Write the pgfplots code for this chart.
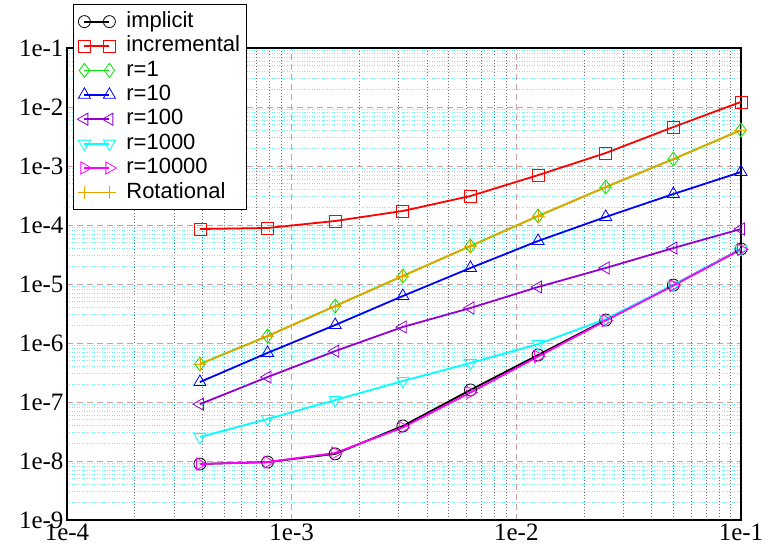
\documentclass[border=0pt]{standalone}
\usepackage{fontspec}
\setmainfont{Liberation Serif}
\newfontfamily\legendfont{Liberation Sans}
\usepackage{pgfplots}
\pgfplotsset{compat=1.18}
\definecolor{gridmaj}{RGB}{200,160,160}
\definecolor{gridminy}{RGB}{110,240,240}
\definecolor{gridminx}{RGB}{110,110,110}
\definecolor{cgreen}{RGB}{0,230,0}
\definecolor{cblue}{RGB}{0,0,255}
\definecolor{cpurple}{RGB}{148,0,211}
\definecolor{ccyan}{RGB}{0,255,255}
\definecolor{cmag}{RGB}{255,0,255}
\definecolor{corange}{RGB}{235,165,0}
\begin{document}
\begin{tikzpicture}
\useasboundingbox (-67bp,-32bp) rectangle (699bp,520bp);
\begin{axis}[
  at={(0,0)}, anchor=south west,
  scale only axis, width=674bp, height=472bp,
  xmode=log, ymode=log,
  xmin=1e-4, xmax=1e-1, ymin=1e-9, ymax=1e-1,
  xtick={1e-4,1e-3,1e-2,1e-1},
  xticklabels={1e-4,1e-3,1e-2,1e-1},
  ytick={1e-9,1e-8,1e-7,1e-6,1e-5,1e-4,1e-3,1e-2,1e-1},
  yticklabels={1e-9,1e-8,1e-7,1e-6,1e-5,1e-4,1e-3,1e-2,1e-1},
  minor xtick={2e-4,3e-4,4e-4,5e-4,6e-4,7e-4,8e-4,9e-4,
    2e-3,3e-3,4e-3,5e-3,6e-3,7e-3,8e-3,9e-3,
    2e-2,3e-2,4e-2,5e-2,6e-2,7e-2,8e-2,9e-2},
  minor ytick={2e-9,3e-9,4e-9,5e-9,6e-9,7e-9,8e-9,9e-9,
    2e-8,3e-8,4e-8,5e-8,6e-8,7e-8,8e-8,9e-8,
    2e-7,3e-7,4e-7,5e-7,6e-7,7e-7,8e-7,9e-7,
    2e-6,3e-6,4e-6,5e-6,6e-6,7e-6,8e-6,9e-6,
    2e-5,3e-5,4e-5,5e-5,6e-5,7e-5,8e-5,9e-5,
    2e-4,3e-4,4e-4,5e-4,6e-4,7e-4,8e-4,9e-4,
    2e-3,3e-3,4e-3,5e-3,6e-3,7e-3,8e-3,9e-3,
    2e-2,3e-2,4e-2,5e-2,6e-2,7e-2,8e-2,9e-2},
  grid=both,
  major grid style={gridmaj, line width=0.9bp, dash pattern=on 6bp off 4bp},
  minor x grid style={gridminx, line width=0.8bp, dash pattern=on 1bp off 2bp},
  minor y grid style={gridminy, line width=0.8bp, dash pattern=on 1bp off 1.5bp},
  major tick length=0pt, minor tick length=0pt,
  axis line style={line width=1.3bp},
  tick label style={font=\fontsize{25bp}{25bp}\selectfont},
  legend cell align=left,
  legend style={at={(0.0089,1.0932)}, anchor=north west, draw=black, line width=0.8bp, fill=white,
    font=\legendfont\fontsize{22bp}{24bp}\selectfont,
    inner xsep=4bp, inner ysep=5bp,
    nodes={text height=15.5bp, text depth=4bp, inner ysep=2.45bp},
    /tikz/every odd column/.append style={column sep=8bp}},
  legend image code/.code={\draw[mark repeat=1,mark phase=1,#1] plot coordinates {(0bp,0bp) (25bp,0bp)};},
  every axis plot/.append style={line width=1.8bp},
]
\addplot[black, mark=o, mark size=6bp, mark options={line width=0.8bp}] coordinates {
(0.000390625,8.9e-9) (0.00078125,9.6e-9) (0.0015625,1.32e-8) (0.003125,3.92e-8) (0.00625,1.6e-7)
(0.0125,6.26e-7) (0.025,2.45e-6) (0.05,9.6e-6) (0.1,3.92e-5)};
\addlegendentry{implicit}
\addplot[red, mark=square, mark size=6bp, mark options={line width=0.8bp}] coordinates {
(0.000390625,8.55e-5) (0.00078125,8.9e-5) (0.0015625,1.17e-4) (0.003125,1.73e-4) (0.00625,3.1e-4)
(0.0125,7.0e-4) (0.025,1.66e-3) (0.05,4.58e-3) (0.1,1.22e-2)};
\addlegendentry{incremental}
\addplot[cgreen, mark=diamond, mark size=7bp, mark options={line width=0.8bp}] coordinates {
(0.000390625,4.4e-7) (0.00078125,1.31e-6) (0.0015625,4.24e-6) (0.003125,1.37e-5) (0.00625,4.4e-5)
(0.0125,1.42e-4) (0.025,4.4e-4) (0.05,1.31e-3) (0.1,4.07e-3)};
\addlegendentry{r=1}
\addplot[cblue, mark=triangle, mark size=7bp, mark options={line width=0.8bp}] coordinates {
(0.000390625,2.18e-7) (0.00078125,6.8e-7) (0.0015625,2.02e-6) (0.003125,6.26e-6) (0.00625,1.87e-5)
(0.0125,5.36e-5) (0.025,1.37e-4) (0.05,3.35e-4) (0.1,7.9e-4)};
\addlegendentry{r=10}
\addplot[cpurple, mark=triangle, mark size=7bp, mark options={line width=0.8bp, rotate=90}] coordinates {
(0.000390625,9.2e-8) (0.00078125,2.65e-7) (0.0015625,7.3e-7) (0.003125,1.87e-6) (0.00625,3.92e-6)
(0.0125,8.9e-6) (0.025,1.87e-5) (0.05,4.07e-5) (0.1,8.55e-5)};
\addlegendentry{r=100}
\addplot[ccyan, mark=triangle, mark size=7bp, mark options={line width=0.8bp, rotate=180}] coordinates {
(0.000390625,2.55e-8) (0.00078125,5.15e-8) (0.0015625,1.08e-7) (0.003125,2.27e-7) (0.00625,4.58e-7)
(0.0125,9.6e-7) (0.025,2.55e-6) (0.05,9.6e-6) (0.1,3.92e-5)};
\addlegendentry{r=1000}
\addplot[cmag, mark=triangle, mark size=7bp, mark options={line width=0.8bp, rotate=-90}] coordinates {
(0.000390625,8.9e-9) (0.00078125,9.6e-9) (0.0015625,1.37e-8) (0.003125,3.7e-8) (0.00625,1.45e-7)
(0.0125,5.9e-7) (0.025,2.4e-6) (0.05,9.4e-6) (0.1,3.85e-5)};
\addlegendentry{r=10000}
\addplot[corange, mark=+, mark size=6.5bp, mark options={line width=0.8bp}] coordinates {
(0.000390625,4.4e-7) (0.00078125,1.31e-6) (0.0015625,4.24e-6) (0.003125,1.37e-5) (0.00625,4.4e-5)
(0.0125,1.42e-4) (0.025,4.4e-4) (0.05,1.31e-3) (0.1,4.07e-3)};
\addlegendentry{Rotational}
\end{axis}
\end{tikzpicture}
\end{document}
